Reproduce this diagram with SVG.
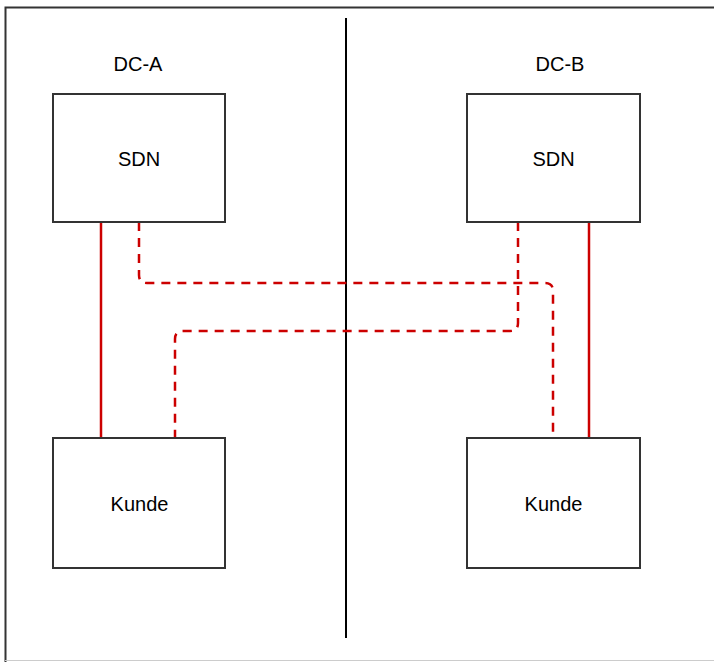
<svg xmlns="http://www.w3.org/2000/svg" width="714" height="662" viewBox="0 0 714 662">
<style>
.box{fill:#fff;stroke:#333;stroke-width:2}
.lbl{font-family:"Liberation Sans",Arial,sans-serif;font-size:20px;fill:#000;text-anchor:middle}
.solid{fill:none;stroke:#cc0000;stroke-width:2.5}
.dash{fill:none;stroke:#cc0000;stroke-width:2.5;stroke-dasharray:9 7}
</style>
<rect width="714" height="662" fill="#fff"/>
<g id="frame">
<path d="M5.5 662 V7.5 H716" fill="none" stroke="#333" stroke-width="2"/>
<line x1="5" y1="660.5" x2="714" y2="660.5" stroke="#ccc" stroke-width="1"/>
<line x1="346" y1="18" x2="346" y2="638" stroke="#000" stroke-width="2"/>
</g>
<g id="label-dca"><text class="lbl" x="138" y="71">DC-A</text></g>
<g id="label-dcb"><text class="lbl" x="560" y="71">DC-B</text></g>
<g id="connectors">
<line class="solid" x1="101" y1="222" x2="101" y2="438"/>
<line class="solid" x1="589" y1="222" x2="589" y2="438"/>
<path class="dash" d="M139 222 V275 Q139 283 147 283 H545 Q553 283 553 291 V438"/>
<path class="dash" d="M518 222 V323 Q518 331 510 331 H183 Q175 331 175 339 V438"/>
</g>
<g id="sdn-a"><rect class="box" x="53" y="94" width="172" height="128"/><text class="lbl" x="139" y="166">SDN</text></g>
<g id="sdn-b"><rect class="box" x="467" y="94" width="173" height="128"/><text class="lbl" x="553.5" y="166">SDN</text></g>
<g id="kunde-a"><rect class="box" x="53" y="438" width="172" height="130"/><text class="lbl" x="139.5" y="511">Kunde</text></g>
<g id="kunde-b"><rect class="box" x="467" y="438" width="173" height="130"/><text class="lbl" x="553.5" y="511">Kunde</text></g>
</svg>
